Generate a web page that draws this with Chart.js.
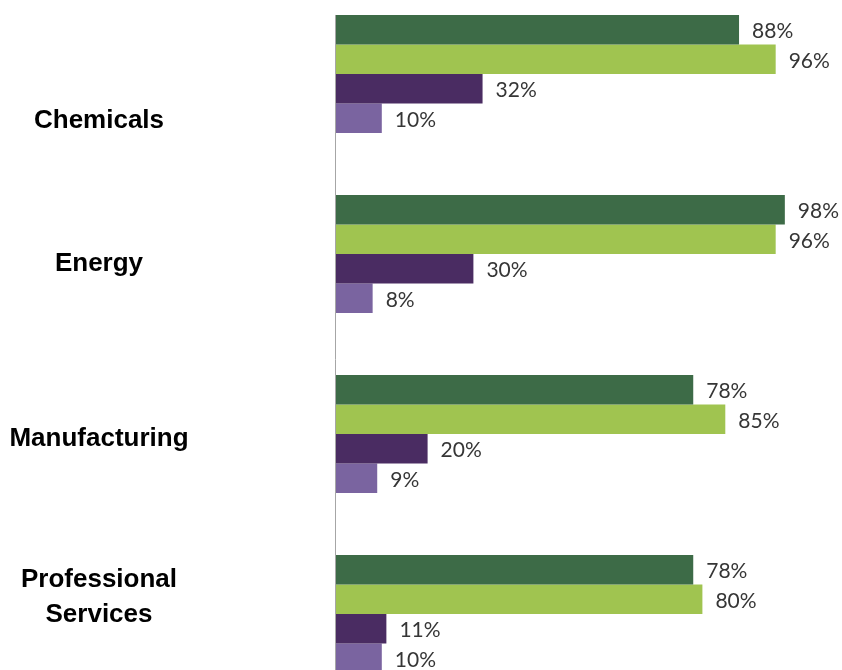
<!DOCTYPE html>
<html>
<head>
<meta charset="utf-8">
<script src="https://cdn.jsdelivr.net/npm/chart.js@4/dist/chart.umd.min.js"></script>
<style>
  html, body { margin: 0; padding: 0; background: #fff; overflow: hidden; }
  #wrap { position: absolute; left: 0; top: -16px; width: 842px; height: 720px; }
</style>
</head>
<body>
<div id="wrap"><canvas id="barChart"></canvas></div>
<script>
const categories = ['Chemicals', 'Energy', 'Manufacturing', ['Professional', 'Services']];
const series1 = [88, 98, 78, 78];
const series2 = [96, 96, 85, 80];
const series3 = [32, 30, 20, 11];
const series4 = [10, 8, 9, 10];

// label nudges, the original labels don't sit on the group centre
const labelNudge = [47, 10, 5, -17];

const colors = ['#3d6b47', '#a0c450', '#4a2c62', '#7a64a0'];

const ctx = document.getElementById('barChart').getContext('2d');

const valueLabels = {
    id: 'valueLabels',
    afterDatasetsDraw(chart) {
        const c = chart.ctx;
        c.save();
        c.font = '21px Lato, "Open Sans", sans-serif';
        c.fillStyle = '#363636';
        c.textAlign = 'left';
        c.textBaseline = 'middle';
        chart.data.datasets.forEach((ds, i) => {
            chart.getDatasetMeta(i).data.forEach((bar, j) => {
                c.fillText(ds.data[j] + '%', bar.x + 13, bar.y + 1.5);
            });
        });
        c.restore();
    }
};

const categoryLabels = {
    id: 'categoryLabels',
    afterDraw(chart) {
        const c = chart.ctx;
        const yScale = chart.scales.y;
        c.save();
        c.font = 'bold 26px "Liberation Sans", Arial, sans-serif';
        c.fillStyle = '#000';
        c.textAlign = 'center';
        c.textBaseline = 'middle';
        categories.forEach((label, i) => {
            const lines = Array.isArray(label) ? label : [label];
            const y0 = yScale.getPixelForValue(i) + labelNudge[i] - (lines.length - 1) * 35 / 2;
            lines.forEach((line, k) => c.fillText(line, 99, y0 + k * 35));
        });
        c.restore();
    }
};

const axisLine = {
    id: 'axisLine',
    afterDatasetsDraw(chart) {
        const c = chart.ctx;
        const first = chart.getDatasetMeta(0).data[0];
        const top = first.y - first.height / 2;
        c.save();
        c.strokeStyle = '#a6a6a6';
        c.lineWidth = 1;
        c.beginPath();
        c.moveTo(chart.chartArea.left - 0.5, top);
        c.lineTo(chart.chartArea.left - 0.5, chart.chartArea.bottom);
        c.stroke();
        c.restore();
    }
};

new Chart(ctx, {
    type: 'bar',
    data: {
        labels: categories,
        datasets: [
            {label: 'Series 1', data: series1, backgroundColor: colors[0]},
            {label: 'Series 2', data: series2, backgroundColor: colors[1]},
            {label: 'Series 3', data: series3, backgroundColor: colors[2]},
            {label: 'Series 4', data: series4, backgroundColor: colors[3]}
        ]
    },
    options: {
        indexAxis: 'y',
        responsive: true,
        maintainAspectRatio: false,
        animation: false,
        layout: {padding: {left: 336, right: 48, top: 0, bottom: 0}},
        datasets: {
            bar: {categoryPercentage: 0.656, barPercentage: 1.0, borderWidth: 0}
        },
        scales: {
            x: {min: 0, max: 100, display: false},
            y: {display: false}
        },
        plugins: {
            legend: {display: false},
            tooltip: {enabled: false}
        }
    },
    plugins: [axisLine, valueLabels, categoryLabels]
});
</script>
</body>
</html>
